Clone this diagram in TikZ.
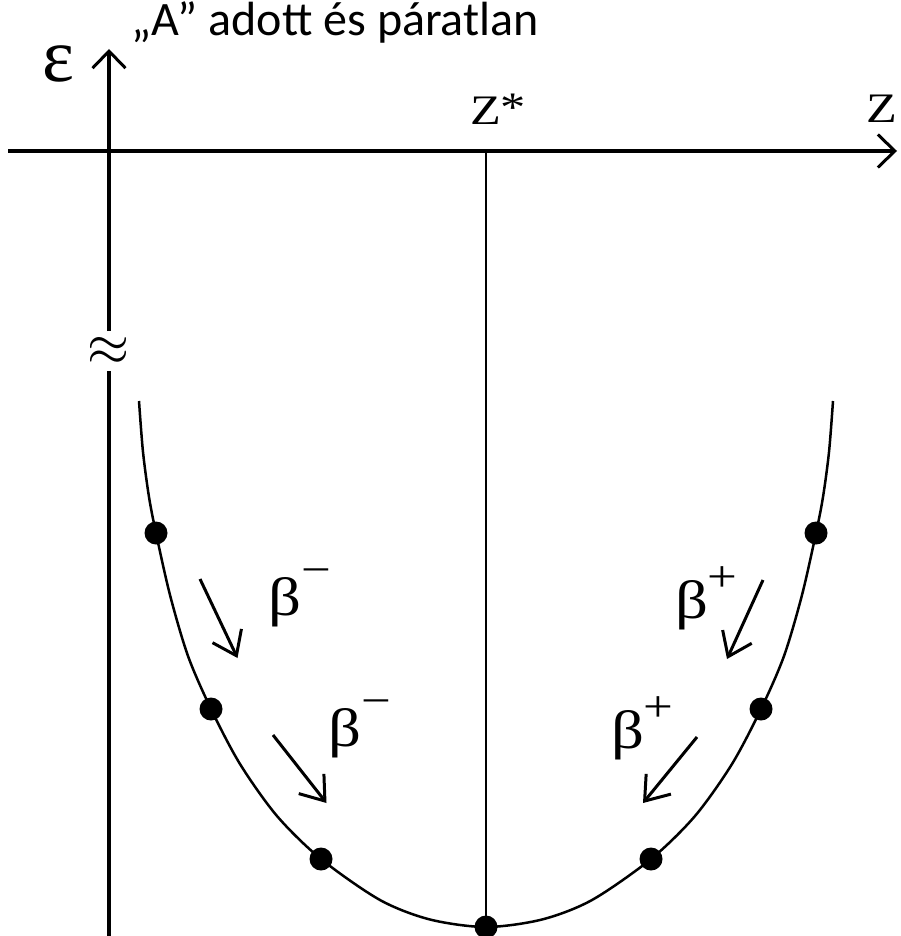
\documentclass[tikz,border=0pt]{standalone}
\usepackage{fontspec}
\setmainfont{Liberation Serif}
\newfontfamily\grk{Liberation Serif}
\newfontfamily\widegrk[FakeStretch=1.2]{Liberation Serif}
\newfontfamily\titlefont{Carlito}
\usetikzlibrary{arrows.meta}
\newcommand\myBm{β\hspace{0pt}\raisebox{31pt}{\fontsize{44}{44}\selectfont −}}
\newcommand\myBp{β\hspace{-1pt}\raisebox{27pt}{\fontsize{44}{44}\selectfont +}}
\begin{document}
\begin{tikzpicture}[x=1pt,y=-1pt,
  axisline/.style={line width=4pt},
  axisarrow/.style={line width=4pt,-{Straight Barb[length=17pt,width=33pt,line width=3pt]}},
  thinline/.style={line width=2.5pt},
  curveline/.style={line width=2.5pt},
  decay/.style={line width=3pt,-{Straight Barb[length=22pt,width=32pt,line width=3pt]}},
  dot/.style={circle,fill=black,inner sep=0pt,minimum size=23pt},
  lbl/.style={inner sep=0pt,anchor=base west,font=\widegrk\fontsize{54}{54}\selectfont},
]
\useasboundingbox (0,0) rectangle (900,936);
% axes
\coordinate (hstart) at (8,151);
\coordinate (hend) at (897,151);
\coordinate (vbot) at (109,936);
\coordinate (vbrklo) at (109,371);
\coordinate (vbrkhi) at (109,331);
\coordinate (vtop) at (109,49);
\coordinate (zstar) at (486,151);
\draw[axisarrow] (hstart) -- (hend);
\draw[axisline] (vbot) -- (vbrklo);
\draw[axisarrow] (vbrkhi) -- (vtop);
\node[inner sep=0pt] (brk) at (108.5,351) {\scalebox{5.4}[5.8]{$\approx$}};
% dots
\node[dot] (d1) at (156,533) {};
\node[dot] (d2) at (211,709) {};
\node[dot] (d3) at (321,859) {};
\node[dot] (d4) at (486,927) {};
\node[dot] (d5) at (651,859) {};
\node[dot] (d6) at (761,709) {};
\node[dot] (d7) at (816,533) {};
% vertical line at Z*
\draw[thinline] (zstar) -- (d4.center);
% curve
\draw[curveline] plot[smooth] coordinates {(139,401) (143,452) (149,497) (d1.center) (170,595) (188,656) (d2.center) (240,764) (277,816) (d3.center) (380,900) (430,919.5) (d4.center) (542,919.5) (592,900) (d5.center) (695,816) (732,764) (d6.center) (784,656) (802,595) (d7.center) (823,497) (829,452) (833,401)};
% decay arrows
\coordinate (a1s) at (200,579); \coordinate (a1e) at (237.5,658);
\coordinate (a2s) at (273,735); \coordinate (a2e) at (326.5,803);
\coordinate (a3s) at (763,580); \coordinate (a3e) at (727,659);
\coordinate (a4s) at (697,737); \coordinate (a4e) at (643,803);
\draw[decay] (a1s) -- (a1e);
\draw[decay] (a2s) -- (a2e);
\draw[decay] (a3s) -- (a3e);
\draw[decay] (a4s) -- (a4e);
% labels
\node[lbl] (bm1) at (268,615) {\myBm};
\node[lbl] (bm2) at (328,746) {\myBm};
\node[lbl] (bp1) at (675,618) {\myBp};
\node[lbl] (bp2) at (611,748) {\myBp};
\node[inner sep=0pt,anchor=base west,font=\grk\fontsize{76}{76}\selectfont] (eps) at (42,82) {ε};
\node[inner sep=0pt,anchor=base west,font=\widegrk\fontsize{42}{42}\selectfont] (zs) at (470,125) {Z\raisebox{3pt}{*}};
\node[inner sep=0pt,anchor=base west,font=\widegrk\fontsize{42}{42}\selectfont] (zl) at (866,123) {Z};
\node[inner sep=0pt,anchor=base west,font=\titlefont\fontsize{48}{48}\selectfont] (title) at (131,36) {„A” adott és páratlan};
\end{tikzpicture}
\end{document}
